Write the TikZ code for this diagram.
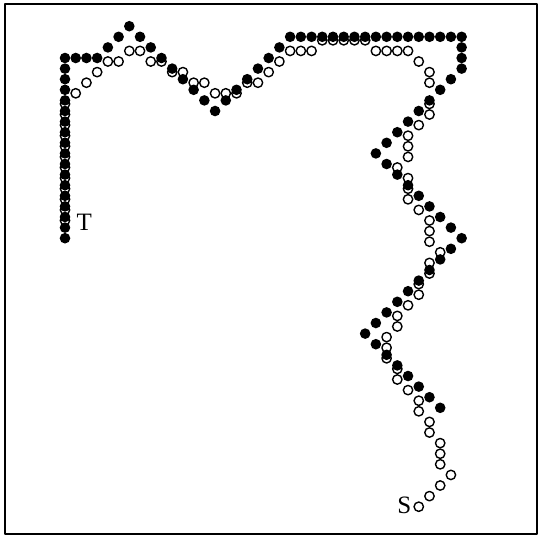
\documentclass[tikz,border=0pt]{standalone}
\usepackage{fontspec}
\setmainfont{Liberation Serif}
\begin{document}
\begin{tikzpicture}[x=5.36pt,y=-5.3pt,line join=round,line cap=round,font=\fontsize{12.5}{14}\selectfont,
		fulldot/.style={fill=black},
		hollowdot/.style={draw=black,fill=white,line width=0.7pt}]
			\useasboundingbox (-6.063,-5.472) rectangle (44.31,45.09);
			\draw[line width=0.6pt] (-5.6,-5.09) rectangle (44.03,44.91);
			% open path, S to T
			\begin{scope}[yshift=-1.75pt]
			\foreach \i/\j in {33/42,34/41,35/40,36/39,35/38,35/37,35/36,34/35,34/34,33/33,33/32,32/31,31/30,31/29,30/28,30/27,30/26,31/25,31/24,32/23,33/22,33/21,34/20,34/19,35/18,34/17,34/16,34/15,33/14,32/13,32/12,32/11,31/10,32/9,32/8,32/7,33/6,34/5,34/4,34/2,34/1,33/0,32/-1,31/-1,30/-1,29/-1,28/-2,27/-2,26/-2,25/-2,24/-2,23/-1,22/-1,21/-1,20/0,19/1,18/2,17/2,16/3,15/3,14/3,13/2,12/2,11/1,10/1,9/0,8/0,7/-1,6/-1,5/0,4/0,3/1,2/2,1/3}
				\draw[hollowdot] (\i,\j) circle (2.35pt);
			\foreach \j in {4,...,15}
				\draw[hollowdot] (0,\j) circle (2.35pt);
			\end{scope}
			% filled path, T to the right
			\foreach \j in {0,...,17}
				\fill[fulldot] (0,\j) circle (2.65pt);
			\foreach \i/\j in {1/0,2/0,3/0,4/-1,5/-2,6/-3,7/-2,8/-1,9/0,10/1,11/2,12/3,13/4,14/5,15/4,16/3,17/2,18/1,19/0,20/-1,37/-1,37/0,37/1,36/2,35/3,34/4,33/5,32/6,31/7,30/8,29/9,30/10,31/11,32/12,33/13,34/14,35/15,36/16,37/17,36/18,35/19,34/20,33/21,32/22,31/23,30/24,29/25,28/26,29/27,30/28,31/29,32/30,33/31,34/32,35/33}
				\fill[fulldot] (\i,\j) circle (2.65pt);
			\foreach \i in {21,...,37}
				\fill[fulldot] (\i,-2) circle (2.65pt);
			\node (t) at (1.8,15.47) {T};
			\node (s) at (31.65,42.17) {S};
		\end{tikzpicture}
\end{document}
